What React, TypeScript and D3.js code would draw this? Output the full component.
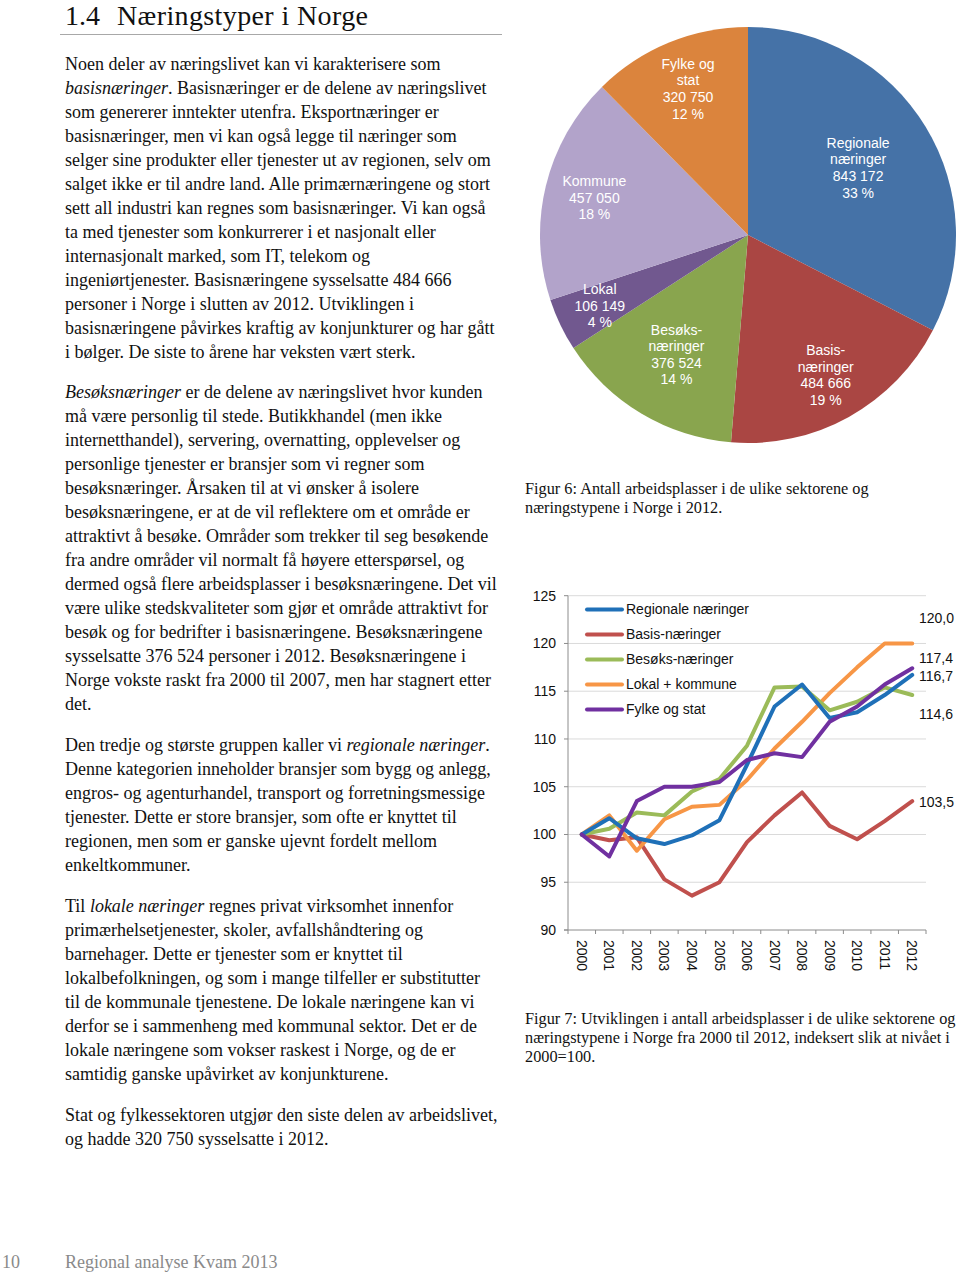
import React from "react";
import * as d3 from "d3";

// ---------- Pie data (Figur 6) ----------
const pieCategories = ["Regionale næringer", "Basis-næringer", "Besøks-næringer", "Lokal", "Kommune", "Fylke og stat"];
const pieValues = [843172, 484666, 376524, 106149, 457050, 320750];
const piePercents = [33, 19, 14, 4, 18, 12];
const pieNameLines = [["Regionale", "næringer"], ["Basis-", "næringer"], ["Besøks-", "næringer"], ["Lokal"], ["Kommune"], ["Fylke og", "stat"]];
const pieColors = ["#4572a7", "#aa4643", "#89a54e", "#71588f", "#b2a3ca", "#db843d"];

// ---------- Line data (Figur 7) ----------
const years = ["2000", "2001", "2002", "2003", "2004", "2005", "2006", "2007", "2008", "2009", "2010", "2011", "2012"];
const seriesNames = ["Regionale næringer", "Basis-næringer", "Besøks-næringer", "Lokal + kommune", "Fylke og stat"];
const regionale = [100, 101.7, 99.6, 99.0, 99.9, 101.5, 107.3, 113.4, 115.7, 112.2, 112.8, 114.6, 116.7];
const basis = [100, 99.4, 99.7, 95.3, 93.6, 95.0, 99.2, 102.0, 104.4, 100.9, 99.5, 101.4, 103.5];
const besoks = [100, 100.6, 102.3, 102.0, 104.5, 105.8, 109.3, 115.4, 115.5, 113.0, 113.9, 115.4, 114.6];
const lokalKommune = [100, 102.0, 98.3, 101.6, 102.9, 103.1, 105.7, 109.0, 111.8, 114.8, 117.5, 120.0, 120.0];
const fylkeStat = [100, 97.7, 103.5, 105.0, 105.0, 105.5, 107.8, 108.5, 108.1, 111.8, 113.4, 115.7, 117.4];
const seriesColors = ["#1f70b8", "#c0504d", "#9bbb59", "#f79646", "#7030a0"];
const yTicks = [90, 95, 100, 105, 110, 115, 120, 125];

// ---------- Page text ----------
type Seg = { t: string; i?: boolean };
const para1: Seg[][] = [
  [{ t: "Noen deler av næringslivet kan vi karakterisere som" }],
  [{ t: "basisnæringer", i: true }, { t: ". Basisnæringer er de delene av næringslivet" }],
  [{ t: "som genererer inntekter utenfra. Eksportnæringer er" }],
  [{ t: "basisnæringer, men vi kan også legge til næringer som" }],
  [{ t: "selger sine produkter eller tjenester ut av regionen, selv om" }],
  [{ t: "salget ikke er til andre land. Alle primærnæringene og stort" }],
  [{ t: "sett all industri kan regnes som basisnæringer. Vi kan også" }],
  [{ t: "ta med tjenester som konkurrerer i et nasjonalt eller" }],
  [{ t: "internasjonalt marked, som IT, telekom og" }],
  [{ t: "ingeniørtjenester. Basisnæringene sysselsatte 484 666" }],
  [{ t: "personer i Norge i slutten av 2012. Utviklingen i" }],
  [{ t: "basisnæringene påvirkes kraftig av konjunkturer og har gått" }],
  [{ t: "i bølger. De siste to årene har veksten vært sterk." }],
];
const para2: Seg[][] = [
  [{ t: "Besøksnæringer", i: true }, { t: " er de delene av næringslivet hvor kunden" }],
  [{ t: "må være personlig til stede. Butikkhandel (men ikke" }],
  [{ t: "internetthandel), servering, overnatting, opplevelser og" }],
  [{ t: "personlige tjenester er bransjer som vi regner som" }],
  [{ t: "besøksnæringer. Årsaken til at vi ønsker å isolere" }],
  [{ t: "besøksnæringene, er at de vil reflektere om et område er" }],
  [{ t: "attraktivt å besøke. Områder som trekker til seg besøkende" }],
  [{ t: "fra andre områder vil normalt få høyere etterspørsel, og" }],
  [{ t: "dermed også flere arbeidsplasser i besøksnæringene. Det vil" }],
  [{ t: "være ulike stedskvaliteter som gjør et område attraktivt for" }],
  [{ t: "besøk og for bedrifter i basisnæringene. Besøksnæringene" }],
  [{ t: "sysselsatte 376 524 personer i 2012. Besøksnæringene i" }],
  [{ t: "Norge vokste raskt fra 2000 til 2007, men har stagnert etter" }],
  [{ t: "det." }],
];
const para3: Seg[][] = [
  [{ t: "Den tredje og største gruppen kaller vi " }, { t: "regionale næringer", i: true }, { t: "." }],
  [{ t: "Denne kategorien inneholder bransjer som bygg og anlegg," }],
  [{ t: "engros- og agenturhandel, transport og forretningsmessige" }],
  [{ t: "tjenester. Dette er store bransjer, som ofte er knyttet til" }],
  [{ t: "regionen, men som er ganske ujevnt fordelt mellom" }],
  [{ t: "enkeltkommuner." }],
];
const para4: Seg[][] = [
  [{ t: "Til " }, { t: "lokale næringer", i: true }, { t: " regnes privat virksomhet innenfor" }],
  [{ t: "primærhelsetjenester, skoler, avfallshåndtering og" }],
  [{ t: "barnehager. Dette er tjenester som er knyttet til" }],
  [{ t: "lokalbefolkningen, og som i mange tilfeller er substitutter" }],
  [{ t: "til de kommunale tjenestene. De lokale næringene kan vi" }],
  [{ t: "derfor se i sammenheng med kommunal sektor. Det er de" }],
  [{ t: "lokale næringene som vokser raskest i Norge, og de er" }],
  [{ t: "samtidig ganske upåvirket av konjunkturene." }],
];
const para5: Seg[][] = [
  [{ t: "Stat og fylkessektoren utgjør den siste delen av arbeidslivet," }],
  [{ t: "og hadde 320 750 sysselsatte i 2012." }],
];
const caption6 = ["Figur 6: Antall arbeidsplasser i de ulike sektorene og", "næringstypene i Norge i 2012."];
const caption7 = [
  "Figur 7: Utviklingen i antall arbeidsplasser i de ulike sektorene og",
  "næringstypene i Norge fra 2000 til 2012, indeksert slik at nivået i",
  "2000=100.",
];

const SERIF = "'Liberation Serif', 'Times New Roman', serif";
const SANS = "'Liberation Sans', Arial, sans-serif";

function Paragraph({ lines, y0 }: { lines: Seg[][]; y0: number }) {
  return (
    <text fontFamily={SERIF} fontSize={18} fill="#111">
      {lines.map((segs, li) => (
        <tspan key={li} x={65} y={y0 + li * 24}>
          {segs.map((s, si) => (
            <tspan key={si} fontStyle={s.i ? "italic" : "normal"}>{s.t}</tspan>
          ))}
        </tspan>
      ))}
    </text>
  );
}

function Pie() {
  const cx = 748, cy = 235, r = 208;
  const labelFactors = [0.62, 0.77, 0.67, 0.79, 0.76, 0.76];
  const pie = d3.pie<number>().sort(null).value((d) => d);
  const arcs = pie(pieValues);
  const arc = d3.arc<d3.PieArcDatum<number>>().innerRadius(0).outerRadius(r);
  const fmt = (v: number) => d3.format(",")(v).replace(/,/g, " ");
  return (
    <g transform={`translate(${cx},${cy})`}>
      {arcs.map((a, i) => (
        <path key={i} d={arc(a) || ""} fill={pieColors[i]} />
      ))}
      {arcs.map((a, i) => {
        const la = d3.arc<d3.PieArcDatum<number>>().innerRadius(r * labelFactors[i]).outerRadius(r * labelFactors[i]);
        const [lx, ly] = la.centroid(a);
        const lines = [...pieNameLines[i], fmt(pieValues[i]), `${piePercents[i]} %`];
        const lh = 16.6;
        const top = ly - ((lines.length - 1) * lh) / 2;
        return (
          <text key={`l${i}`} fontFamily={SANS} fontSize={14} fill="#fff" textAnchor="middle">
            {lines.map((t, k) => (
              <tspan key={k} x={lx} y={top + k * lh} dy="0.35em">{t}</tspan>
            ))}
          </text>
        );
      })}
    </g>
  );
}

function LineChart() {
  const x = d3.scaleBand<string>().domain(years).range([568, 926]);
  const y = d3.scaleLinear().domain([90, 125]).range([930, 595.7]);
  const cxp = (yr: string) => (x(yr) as number) + x.bandwidth() / 2;
  const all = [regionale, basis, besoks, lokalKommune, fylkeStat];
  const line = d3.line<number>().x((_, i) => cxp(years[i])).y((d) => y(d)).curve(d3.curveLinear);
  const drawOrder = [1, 3, 2, 0, 4];
  const endLabelDy = [1, 1, 19, -25, -10];
  const fmtEnd = (v: number) => d3.format(".1f")(v).replace(".", ",");
  const axisColor = "#8c8c8c";
  return (
    <g>
      {yTicks.filter((t) => t !== 90).map((t) => (
        <line key={t} x1={568} x2={926} y1={y(t)} y2={y(t)} stroke="#dadada" strokeWidth={1} />
      ))}
      <line x1={568} x2={568} y1={y(125)} y2={y(90) + 4} stroke={axisColor} strokeWidth={1} />
      {yTicks.map((t) => (
        <g key={`yt${t}`}>
          <line x1={564} x2={568} y1={y(t)} y2={y(t)} stroke={axisColor} />
          <text x={556} y={y(t)} dy="0.35em" textAnchor="end" fontFamily={SANS} fontSize={14} fill="#111">{t}</text>
        </g>
      ))}
      <line x1={564} x2={926} y1={y(90)} y2={y(90)} stroke={axisColor} strokeWidth={1} />
      {years.map((yr) => (
        <line key={`xt${yr}`} x1={(x(yr) as number) + x.bandwidth()} x2={(x(yr) as number) + x.bandwidth()} y1={y(90)} y2={y(90) + 4} stroke={axisColor} />
      ))}
      {years.map((yr) => (
        <text key={`xl${yr}`} transform={`translate(${cxp(yr)},${y(90) + 10}) rotate(90)`} dy="0.35em" fontFamily={SANS} fontSize={14} fill="#111">{yr}</text>
      ))}
      {drawOrder.map((si) => (
        <path key={`s${si}`} d={line(all[si]) || ""} fill="none" stroke={seriesColors[si]} strokeWidth={4} strokeLinejoin="round" strokeLinecap="round" />
      ))}
      {all.map((s, si) => (
        <text key={`e${si}`} x={919} y={y(s[s.length - 1]) + endLabelDy[si]} dy="0.35em" fontFamily={SANS} fontSize={14} fill="#111">{fmtEnd(s[s.length - 1])}</text>
      ))}
      {seriesNames.map((n, si) => (
        <g key={`lg${si}`}>
          <line x1={587} x2={622} y1={609.5 + si * 25} y2={609.5 + si * 25} stroke={seriesColors[si]} strokeWidth={4} strokeLinecap="round" />
          <text x={626} y={609.5 + si * 25} dy="0.35em" fontFamily={SANS} fontSize={14} fill="#111">{n}</text>
        </g>
      ))}
    </g>
  );
}

export default function App() {
  return (
    <div style={{ position: "absolute", left: 0, top: 0 }}>
      <svg width={960} height={1276} viewBox="0 0 960 1276" style={{ display: "block", background: "#fff" }}>
        <rect width={960} height={1276} fill="#fff" />
        <text x={65} y={25} fontFamily={SERIF} fontSize={28} fill="#111">1.4</text>
        <text x={117} y={25} fontFamily={SERIF} fontSize={28} fill="#111" textLength={251} lengthAdjust="spacing">Næringstyper i Norge</text>
        <line x1={60} x2={502} y1={34.5} y2={34.5} stroke="#a8a8a8" strokeWidth={1} />
        <Paragraph lines={para1} y0={70} />
        <Paragraph lines={para2} y0={398} />
        <Paragraph lines={para3} y0={751} />
        <Paragraph lines={para4} y0={912} />
        <Paragraph lines={para5} y0={1121} />
        <Pie />
        <text fontFamily={SERIF} fontSize={16.3} fill="#111">
          {caption6.map((t, i) => (
            <tspan key={i} x={525} y={494 + i * 19}>{t}</tspan>
          ))}
        </text>
        <LineChart />
        <text fontFamily={SERIF} fontSize={16.3} fill="#111">
          {caption7.map((t, i) => (
            <tspan key={i} x={525} y={1024 + i * 19}>{t}</tspan>
          ))}
        </text>
        <text x={2} y={1268} fontFamily={SERIF} fontSize={18} fill="#8a8a8a">10</text>
        <text x={65} y={1268} fontFamily={SERIF} fontSize={18} fill="#8a8a8a">Regional analyse Kvam 2013</text>
      </svg>
    </div>
  );
}
